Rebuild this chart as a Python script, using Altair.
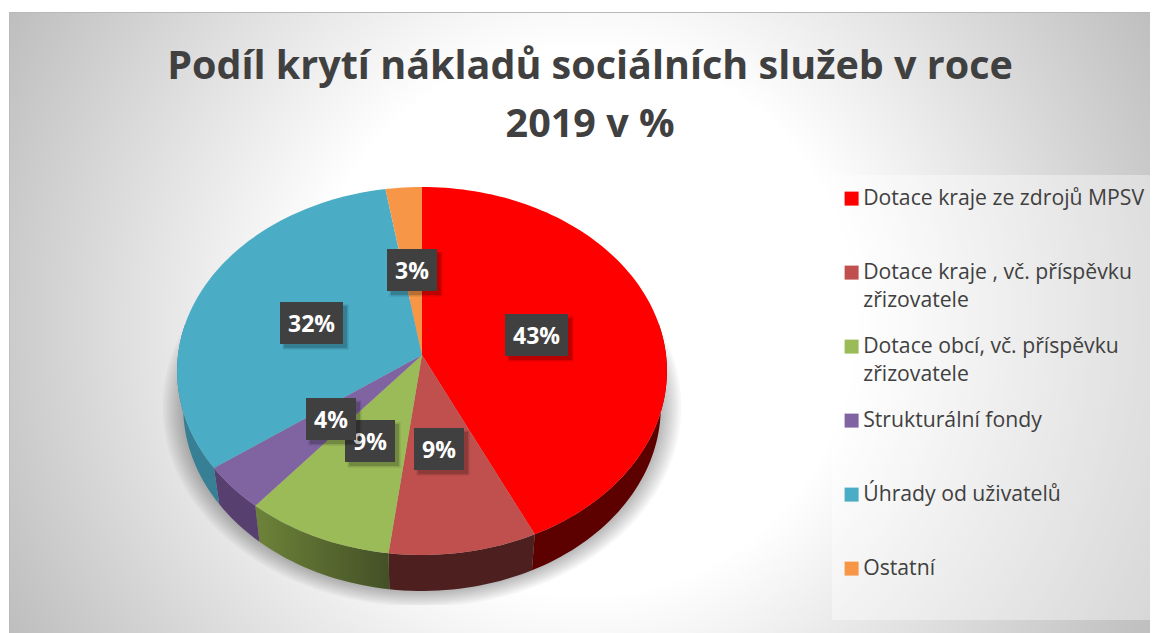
import math
import altair as alt
import pandas as pd

categories = [
    "Dotace kraje ze zdrojů MPSV",
    "Dotace kraje , vč. příspěvku zřizovatele",
    "Dotace obcí, vč. příspěvku zřizovatele",
    "Strukturální fondy",
    "Úhrady od uživatelů",
    "Ostatní",
]
values = [43.0, 9.0, 9.0, 4.0, 32.4, 2.6]
colors = ["#FF0000", "#C0504D", "#9BBB59", "#8064A2", "#4BACC6", "#F79646"]
title_lines = ["Podíl krytí nákladů sociálních služeb v roce", "2019 v %"]

# layout (pixels of the reference picture)
APEX = (422.0, 355.0)
A, B, K = 244.0, 182.6, 0.0868
DEPTH, SHRINK = 36.0, 0.975
GLOW = (583, 322, 680)
label_centres = [(536.5, 335), (439, 449), (370, 441), (331, 419), (311.5, 323), (412, 270)]
X_SCALE = alt.Scale(domain=[8, 1150], nice=False, zero=False)
Y_SCALE = alt.Scale(domain=[633, 8], nice=False, zero=False)


def top(theta):
    s, v = math.sin(theta), -math.cos(theta)
    w = 1 - K * v
    return APEX[0] + A * s / w, APEX[1] + B * v / w


def bottom(theta):
    x, y = top(theta)
    return APEX[0] + (x - APEX[0]) * SHRINK, y + DEPTH


def arc_angles(a0, a1):
    n = max(2, int(abs(a1 - a0) / math.radians(1.5)))
    return [a0 + (a1 - a0) * i / n for i in range(n + 1)]


bounds = [0.0]
for v in values:
    bounds.append(bounds[-1] + v)
bounds = [b / bounds[-1] * 2 * math.pi for b in bounds]

face_rows, wall_rows = [], {}
for idx, cat in enumerate(categories):
    a0, a1 = bounds[idx], bounds[idx + 1]
    pts = [APEX] + [top(t) for t in arc_angles(a0, a1)] + [APEX]
    face_rows += [{"cat": cat, "i": i, "x": p[0], "y": p[1]} for i, p in enumerate(pts)]
    b0, b1 = max(a0, math.radians(80)), min(a1, math.radians(280))
    if b1 > b0:
        ang = arc_angles(b0, b1)
        ring = [top(t) for t in ang] + [bottom(t) for t in reversed(ang)]
        ring.append(ring[0])
        wall_rows[idx] = pd.DataFrame(
            [{"i": i, "x": p[0], "y": p[1]} for i, p in enumerate(ring)]
        )
faces = pd.DataFrame(face_rows)


def encode_poly(chart):
    return chart.encode(
        x=alt.X("x:Q", scale=X_SCALE, axis=None),
        y=alt.Y("y:Q", scale=Y_SCALE, axis=None),
        order=alt.Order("i:Q"),
    )


def box(x0, x1, y0, y1):
    return pd.DataFrame([{"x0": x0, "x1": x1, "y0": y0, "y1": y1}])


def encode_box(chart):
    return chart.encode(
        x=alt.X("x0:Q", scale=X_SCALE, axis=None),
        x2="x1:Q",
        y=alt.Y("y0:Q", scale=Y_SCALE, axis=None),
        y2="y1:Q",
    )


def stops(*pairs):
    return [alt.GradientStop(offset=o, color=c) for o, c in pairs]


# a square box clipped to the view keeps the radial gradient circular
background = encode_box(
    alt.Chart(
        box(GLOW[0] - GLOW[2], GLOW[0] + GLOW[2], GLOW[1] - GLOW[2], GLOW[1] + GLOW[2])
    ).mark_rect(
        clip=True,
        fill=alt.Gradient(
            gradient="radial",
            stops=stops((0, "#ffffff"), (0.40, "#ffffff"), (1, "#b9b9b9")),
            x1=0.5, y1=0.5, r1=0, x2=0.5, y2=0.5, r2=0.5,
        ),
    )
)
outer_top = encode_box(alt.Chart(box(8, 1150, 8, 12)).mark_rect(fill="#ffffff"))
outer_left = encode_box(alt.Chart(box(8, 9, 8, 633)).mark_rect(fill="#ffffff"))
edge_top = encode_box(alt.Chart(box(9, 1150, 12, 13)).mark_rect(fill="#b8b8b8"))
edge_left = encode_box(
    alt.Chart(box(9, 10, 12, 633)).mark_rect(fill="#b8b8b8", opacity=0.6)
)
panel = encode_box(
    alt.Chart(box(832, 1150, 175, 620)).mark_rect(fill="#ffffff", opacity=0.38)
)

# soft shadow beneath the pie
shadow_layers = []
cy_low = APEX[1] + 16 + DEPTH
for step in range(10):
    grow = 1 + step * 0.0095
    rows = []
    for i, t in enumerate(arc_angles(0, 2 * math.pi)):
        x, y = bottom(t)
        x2 = APEX[0] + (x - APEX[0]) * grow
        y2 = cy_low + (y - cy_low) * grow
        rows.append({"i": i, "x": x2, "y": min(605, max(300, y2))})
    shadow_layers.append(
        encode_poly(
            alt.Chart(pd.DataFrame(rows)).mark_line(
                filled=True, fill="#000000", fillOpacity=0.032, strokeWidth=0
            )
        )
    )

wall_fills = {
    0: "#5c0000",
    1: "#4d1f1f",
    2: alt.Gradient(
        gradient="linear",
        stops=stops((0, "#6d8339"), (1, "#435026")),
        x1=0, y1=0, x2=1, y2=0,
    ),
    3: "#57406f",
    4: "#367f94",
}
walls = [
    encode_poly(
        alt.Chart(df).mark_line(filled=True, fill=wall_fills[idx], strokeWidth=0)
    )
    for idx, df in wall_rows.items()
]

top_faces = encode_poly(
    alt.Chart(faces).mark_line(filled=True, strokeWidth=0)
).encode(
    color=alt.Color(
        "cat:N",
        sort=categories,
        scale=alt.Scale(domain=categories, range=colors),
        legend=alt.Legend(
            title=None,
            orient="none",
            legendX=833,
            legendY=180,
            symbolType="square",
            symbolSize=196,
            symbolStrokeWidth=0,
            symbolOffset=0,
            labelFont="Open Sans",
            labelFontSize=21.2,
            labelColor="#404040",
            labelLimit=0,
            labelOffset=1,
            rowPadding=24,
            labelExpr=(
                "indexof(datum.label, ' zřiz') > 0 ? "
                "[replace(datum.label, ' zřizovatele', ''), 'zřizovatele'] "
                ": [datum.label, '']"
            ),
        ),
    ),
)

# data labels
label_rows = []
for idx, v in enumerate(values):
    cx, cy = label_centres[idx]
    text = f"{round(v)}%"
    half = 31.5 if v >= 10 else 25
    label_rows.append(
        {"t": text, "cx": cx, "cy": cy, "x0": cx - half, "x1": cx + half,
         "y0": cy - 21, "y1": cy + 21, "sx0": cx - half + 4, "sx1": cx + half + 4,
         "sy0": cy - 17, "sy1": cy + 25, "front": idx == 3}
    )
labels = pd.DataFrame(label_rows)


def label_layers(df):
    base = alt.Chart(df)
    out = []
    for off, op in ((3, 0.12), (1.5, 0.16)):
        out.append(
            base.transform_calculate(
                a=f"datum.sx0-{off}+1.5", b=f"datum.sx1+{off}-1.5",
                c=f"datum.sy0-{off}+1.5", d=f"datum.sy1+{off}-1.5",
            ).mark_rect(fill="#000000", opacity=op).encode(
                x=alt.X("a:Q", scale=X_SCALE, axis=None), x2="b:Q",
                y=alt.Y("c:Q", scale=Y_SCALE, axis=None), y2="d:Q",
            )
        )
    out.append(
        encode_box(base.mark_rect(fill="#404040"))
    )
    out.append(
        base.mark_text(
            font="Open Sans", fontWeight="bold", fontSize=23, color="#ffffff",
            align="center", baseline="middle", dy=2,
        ).encode(
            x=alt.X("cx:Q", scale=X_SCALE, axis=None),
            y=alt.Y("cy:Q", scale=Y_SCALE, axis=None),
            text="t:N",
        )
    )
    return out


layers = [background, outer_top, outer_left, edge_top, edge_left, panel]
layers += shadow_layers + walls + [top_faces]
layers += label_layers(labels[~labels.front]) + label_layers(labels[labels.front])

chart = (
    alt.layer(*layers)
    .properties(
        width=1142,
        height=625,
        padding=0,
        autosize=alt.AutoSizeParams(type="none"),
        background="#ffffff",
        title=alt.TitleParams(
            text=title_lines,
            anchor="middle",
            font="Open Sans",
            fontWeight="bold",
            fontSize=39.5,
            color="#404040",
            lineHeight=58,
            baseline="top",
            dx=11,
            dy=137,
            offset=0,
        ),
    )
    .configure_view(stroke=None)
    .configure(style={"guide-label": {"lineHeight": 28}})
)

chart.save("out.html", embed_options={"renderer": "svg", "actions": False})
